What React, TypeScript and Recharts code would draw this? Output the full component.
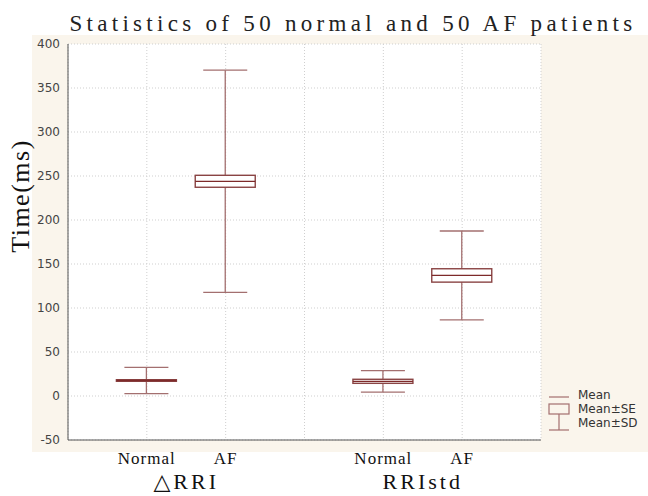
import React from "react";
import { ComposedChart, Bar, XAxis, YAxis, CartesianGrid } from "recharts";

// ---- data ----
const categories = ["Normal", "AF", "", "Normal", "AF"];
const groups = ["△RRI", "△RRI", "", "RRIstd", "RRIstd"];
const means: (number | null)[] = [17.6, 244, null, 16.7, 137];
const seValues: (number | null)[] = [0.9, 6.8, null, 2.3, 7.6];
const sdValues: (number | null)[] = [15, 126.3, null, 12.2, 50.5];
const yTicks = [-50, 0, 50, 100, 150, 200, 250, 300, 350, 400];
const legendItems = ["Mean", "Mean±SE", "Mean±SD"];
const titleText = "Statistics of 50 normal and 50 AF patients";
const yLabelText = "Time(ms)";

// ---- layout ----
const W = 648;
const H = 496;
const MARGIN = { top: 44, right: 107, bottom: 0, left: 0 };
const Y_AXIS_W = 68;
const X_AXIS_H = 56;
const PLOT_W = W - MARGIN.left - MARGIN.right - Y_AXIS_W;
const PAD = 39.4;
const STEP = (PLOT_W - 2 * PAD) / categories.length;

const WHISKER = "#a36f6f";
const BOX = "#8a4444";
const MEAN = "#7e2a2a";
const SERIF = "'Liberation Serif', 'DejaVu Serif', serif";
const SANS = "'DejaVu Sans', Verdana, sans-serif";

const data = categories.map((c, i) => {
  const m = means[i];
  const sd = sdValues[i];
  return {
    key: "c" + i,
    label: c,
    group: groups[i],
    mean: m,
    se: seValues[i],
    sd: sd,
    sdRange: m == null || sd == null ? null : [m - sd, m + sd],
  };
});

const BoxShape = (props: any) => {
  const { x, y, width, height, payload } = props;
  if (payload == null || payload.mean == null || !height) return null;
  const cx = x + width / 2;
  const pxPerUnit = height / (2 * payload.sd);
  const meanY = y + height / 2;
  const seHalf = payload.se * pxPerUnit;
  const capHalf = 22;
  const boxHalf = 30;
  return (
    <g>
      <line x1={cx} x2={cx} y1={y} y2={y + height} stroke={WHISKER} strokeWidth={1.3} />
      <line x1={cx - capHalf} x2={cx + capHalf} y1={y} y2={y} stroke={WHISKER} strokeWidth={1.3} />
      <line x1={cx - capHalf} x2={cx + capHalf} y1={y + height} y2={y + height} stroke={WHISKER} strokeWidth={1.3} />
      <rect x={cx - boxHalf} y={meanY - seHalf} width={boxHalf * 2} height={seHalf * 2} fill="#ffffff" stroke={BOX} strokeWidth={1.4} />
      <line x1={cx - boxHalf} x2={cx + boxHalf} y1={meanY} y2={meanY} stroke={MEAN} strokeWidth={1.3} />
    </g>
  );
};

const XTick = (props: any) => {
  const { x, y, index } = props;
  const row = data[index];
  if (!row) return null;
  const showGroup = row.group !== "" && (index === 0 || data[index - 1].group !== row.group);
  return (
    <g>
      <text x={x} y={y + 24} textAnchor="middle" fontFamily={SERIF} fontSize={17} letterSpacing={1} fill="#111">
        {row.label}
      </text>
      {showGroup && (
        <text x={x + STEP / 2} y={y + 49} textAnchor="middle" fontFamily={SERIF} fontSize={22} letterSpacing={3} fill="#111">
          {row.group}
        </text>
      )}
    </g>
  );
};

const YLabel = (props: any) => {
  const vb = props.viewBox || { x: 0, y: 44, height: 396 };
  const cx = vb.x + 20;
  const cy = 196;
  return (
    <text x={cx} y={cy} transform={`rotate(-90 ${cx} ${cy})`} textAnchor="middle" dominantBaseline="central" fontFamily={SERIF} fontSize={26} letterSpacing={1.5} fill="#111">
      {yLabelText}
    </text>
  );
};

export default function App() {
  return (
    <div style={{ position: "absolute", left: 0, top: 0, width: W, height: H, background: "#ffffff", overflow: "hidden" }}>
      <div style={{ position: "absolute", left: 32, top: 35, width: W - 32, height: 417, background: "#faf5ec" }} />
      <div style={{ position: "absolute", left: 0, top: 0 }}>
        <ComposedChart width={W} height={H} data={data} margin={MARGIN}>
          <CartesianGrid stroke="#cfcfcf" strokeDasharray="1 2" fill="#ffffff" />
          <XAxis
            dataKey="key"
            type="category"
            height={X_AXIS_H}
            padding={{ left: PAD, right: PAD }}
            tickLine={false}
            tickSize={0}
            tickMargin={0}
            axisLine={{ stroke: "#555555" }}
            tick={<XTick />}
            interval={0}
          />
          <XAxis xAxisId="top" dataKey="key" orientation="top" height={0} padding={{ left: PAD, right: PAD }} tick={false} tickLine={false} axisLine={{ stroke: "#555555" }} />
          <YAxis
            type="number"
            domain={[-50, 400]}
            ticks={yTicks}
            width={Y_AXIS_W}
            allowDataOverflow
            tickLine={false}
            tickSize={0}
            tickMargin={8}
            axisLine={{ stroke: "#555555" }}
            tick={{ fontFamily: SANS, fontSize: 12, fill: "#444444" }}
            label={<YLabel />}
          />
          <YAxis yAxisId="right" orientation="right" width={0} domain={[-50, 400]} tick={false} tickLine={false} axisLine={{ stroke: "#555555" }} />
          <Bar dataKey="sdRange" barSize={60} shape={<BoxShape />} isAnimationActive={false} />
        </ComposedChart>
      </div>
      <svg width={W} height={H} style={{ position: "absolute", left: 0, top: 0, pointerEvents: "none" }}>
        <text x={353} y={31} textAnchor="middle" fontFamily={SERIF} fontSize={23} letterSpacing={4.3} fill="#222">
          {titleText}
        </text>
        <g>
          <line x1={549} x2={569} y1={397} y2={397} stroke={WHISKER} strokeWidth={1.2} />
          <rect x={549} y={404} width={20} height={10} fill="none" stroke={WHISKER} strokeWidth={1.2} />
          <line x1={559} x2={559} y1={414} y2={430} stroke={WHISKER} strokeWidth={1.2} />
          <line x1={549} x2={569} y1={430} y2={430} stroke={WHISKER} strokeWidth={1.2} />
          {legendItems.map((t, i) => (
            <text key={t} x={578} y={399 + i * 14} fontFamily={SANS} fontSize={12} fill="#333333">
              {t}
            </text>
          ))}
        </g>
      </svg>
    </div>
  );
}
